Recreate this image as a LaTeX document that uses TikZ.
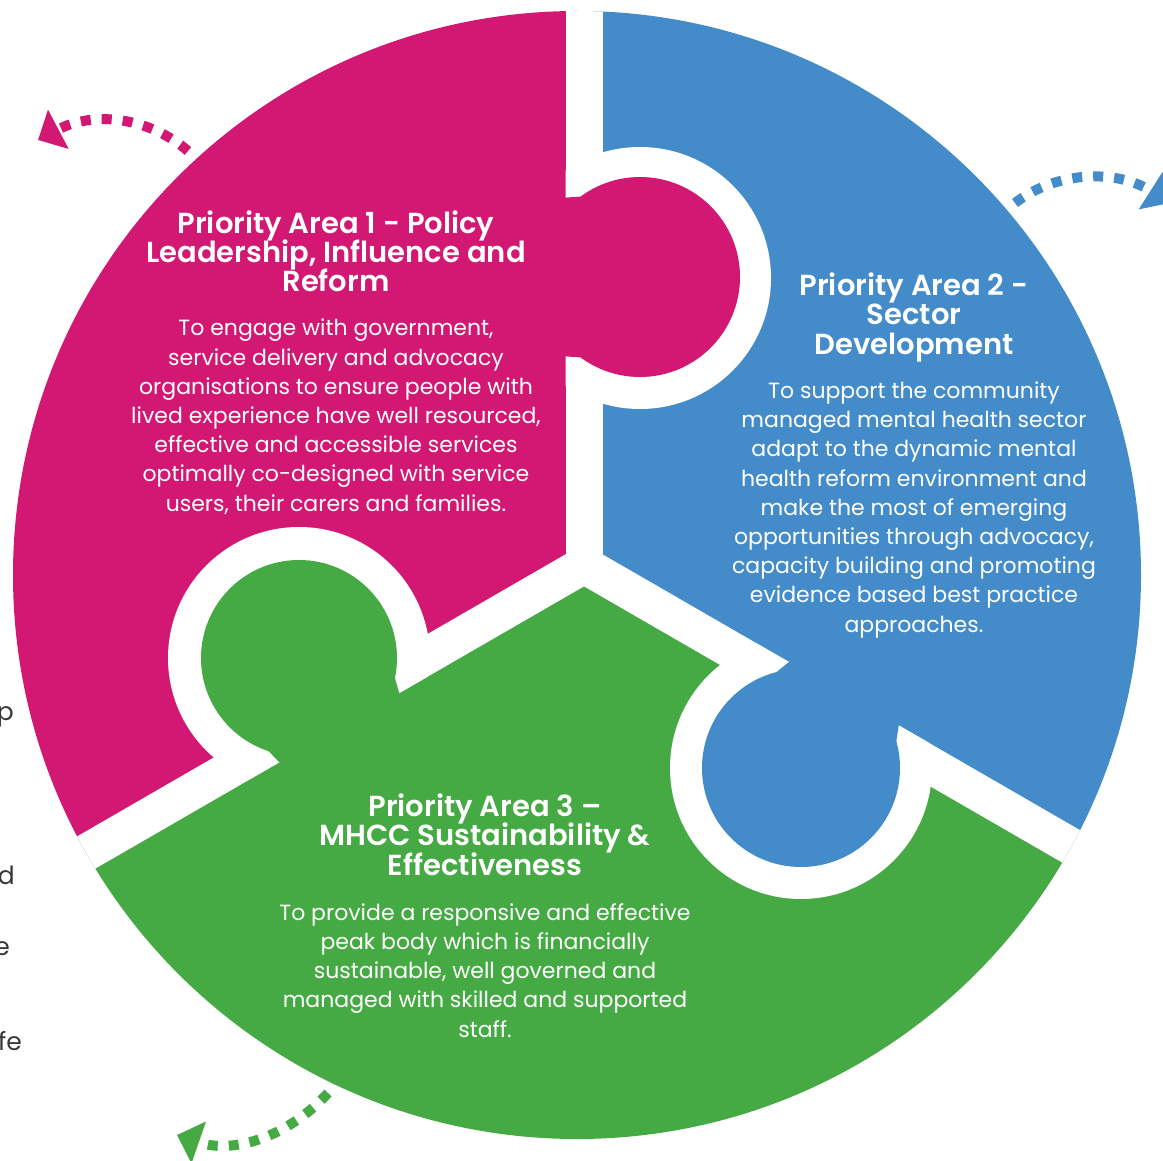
\documentclass[tikz,border=0pt]{standalone}
\usepackage{fontspec}
\setmainfont{Poppins}[BoldFont={Poppins SemiBold}]
\usetikzlibrary{arrows.meta}
\definecolor{piecemag}{RGB}{210,24,114}
\definecolor{pieceblue}{RGB}{68,140,201}
\definecolor{piecegreen}{RGB}{70,170,68}
\definecolor{sidegray}{RGB}{55,55,55}
\newcommand\tightlines{\setlength{\lineskiplimit}{-30pt}}
\tikzset{
  titletext/.style = {text=white, align=center, inner sep=0pt,
                      font={\fontsize{29}{29.3}\selectfont\bfseries\tightlines}},
  bodytext/.style  = {text=white, align=center, inner sep=0pt,
                      font={\fontsize{22}{29.2}\selectfont\tightlines}},
  gapline/.style   = {white, line width=37pt},
  turnarrow/.style = {line width=10pt, dash pattern=on 10pt off 11pt,
                      -{Triangle[width=43pt,length=23pt]}},
  cutoff/.style    = {text=sidegray, anchor=base east, inner sep=0pt,
                      font=\fontsize{25}{30}\selectfont}
}

\begin{document}
\begin{tikzpicture}[x=1pt, y=-1pt]
  \useasboundingbox (0,0) rectangle (1163,1161);

  % hub where the three gaps meet
  \coordinate (hub)   at (584,565);
  \coordinate (gapN)  at (584,-135);
  \coordinate (gapSW) at (-22,915);
  \coordinate (gapSE) at (1190,915);

  \begin{scope}
    \clip (577,575) circle (564);
    % the three pieces
    \fill[piecemag]   (hub) -- (584,-1435) -- (-1500,-1435) -- (-1500,1565) -- (-1148,1565) -- cycle;
    \fill[pieceblue]  (hub) -- (584,-1435) -- (2500,-1435) -- (2500,1565) -- (2316,1565) -- cycle;
    \fill[piecegreen] (hub) -- (-1148,1565) -- (2316,1565) -- cycle;
    % sockets
    \begin{scope}
      \clip (565.5,100) rectangle (900,450);
      \fill[white] (640,278) circle (131);
    \end{scope}
    \begin{scope}
      \clip (593.25,581) -- (-99.55,981) -- (-299.55,634.6) -- (393.25,234.6) -- cycle;
      \fill[white] (299,658) circle (131);
    \end{scope}
    \begin{scope}
      \clip (593.25,549) -- (1286.05,949) -- (1086.05,1295.4) -- (393.25,895.4) -- cycle;
      \fill[white] (801,768) circle (131);
    \end{scope}
    % gaps
    \draw[gapline] (hub) -- (gapN);
    \draw[gapline] (hub) -- (gapSW);
    \draw[gapline] (hub) -- (gapSE);
    % tabs with their necks
    \fill[piecemag]   (640,277) circle (100);
    \fill[piecemag]   (560,198) -- (580.5,196.6) -- (580.5,357.4) -- (560,356) -- cycle;
    \fill[piecegreen] (299,658) circle (98);
    \fill[piecegreen] (400.65,697.95) -- (394.97,678.15) -- (268.55,751.15) -- (282.85,765.95) -- cycle;
    \fill[pieceblue]  (801,768) circle (99);
    \fill[pieceblue]  (793.2,658.67) -- (776.45,672.09) -- (896.3,741.29) -- (899.55,720.07) -- cycle;
  \end{scope}

  % texts (base = last line)
  \node[titletext, anchor=base] (pa1-title) at (336,292)
    {Priority Area 1 - Policy\\Leadership, Influence and\\Reform};
  \node[bodytext, anchor=base] (pa1-text) at (336,511)
    {To engage with government,\\service delivery and advocacy\\organisations to ensure people with\\lived experience have well resourced,\\effective and accessible services\\optimally co-designed with service\\users, their carers and families.};
  \node[titletext, anchor=base] (pa2-title) at (914,354)
    {Priority Area 2 -\\Sector\\Development};
  \node[bodytext, anchor=base] (pa2-text) at (914,632)
    {To support the community\\managed mental health sector\\adapt to the dynamic mental\\health reform environment and\\make the most of emerging\\opportunities through advocacy,\\capacity building and promoting\\evidence based best practice\\approaches.};
  \node[titletext, anchor=base] (pa3-title) at (485,875)
    {Priority Area 3 –\\MHCC Sustainability \&\\Effectiveness};
  \node[bodytext, anchor=base] (pa3-text) at (485,1037)
    {To provide a responsive and effective\\peak body which is financially\\sustainable, well governed and\\managed with skilled and supported\\staff.};

  % cut-off words of the next column
  \node[cutoff] (cut-p)  at (14,720)  {p};
  \node[cutoff] (cut-d)  at (15,884)  {d};
  \node[cutoff] (cut-e)  at (10,955)  {e};
  \node[cutoff] (cut-fe) at (22,1050) {fe};

  % turning arrows
  \coordinate (turn1-from) at (188,151);
  \coordinate (turn1-to)   at (38,140);
  \coordinate (turn2-from) at (1015,203);
  \coordinate (turn2-to)   at (1170,203);
  \coordinate (turn3-from) at (328,1093);
  \coordinate (turn3-to)   at (177,1135);
  \draw[turnarrow, piecemag]   (turn1-from) .. controls (150,118) and (95,110) .. (turn1-to);
  \draw[turnarrow, pieceblue]  (turn2-from) .. controls (1055,172) and (1115,168) .. (turn2-to);
  \draw[turnarrow, piecegreen] (turn3-from) .. controls (290,1135) and (235,1155) .. (turn3-to);
\end{tikzpicture}
\end{document}
